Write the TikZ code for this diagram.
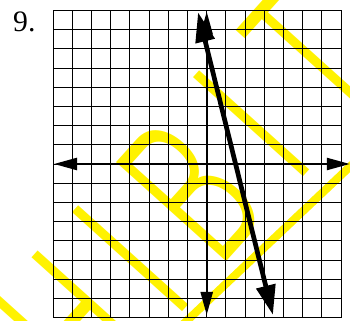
\documentclass[tikz,border=0pt]{standalone}
\usepackage{fontspec}
\setmainfont{Liberation Serif}
\newfontfamily\wmfont{Poppins Light}
\usetikzlibrary{arrows.meta}
\tikzset{
  gridline/.style={line width=0.7pt,black},
  axis/.style={<->,>={Triangle[length=17pt,width=9pt]},line width=1.4pt},
  graphline/.style={<->,>={Triangle[length=22pt,width=14pt]},line width=3.5pt},
  wmark/.style={anchor=base,inner sep=0pt,transform shape,xscale=0.62,
               text=yellow,font=\wmfont\fontsize{157}{160}\selectfont},
  wmline/.style={yellow,line width=6pt},
}
\begin{document}
\begin{tikzpicture}[x=0.5cm,y=0.5cm]
  \useasboundingbox (-10.766,-8.177) rectangle (7.464,8.542);
  % Watermark
  \begin{scope}[rotate=48]
    \foreach \ch [count=\k] in {H,I,B,I,T}
      \node[wmark] (w\k) at ({-15.7+4.7*\k},-4.2) {\ch};
  \end{scope}
  \coordinate (wa) at (-1.6,-8.7);
  \coordinate (wb) at (8,0.37);
  \draw[wmline] (wa) -- (wb);
  % Grid
  \draw[gridline,step=0.5cm] (-8,-8) grid (7,8);
  % Axes
  \coordinate (xl) at (-7.95,0);
  \coordinate (xr) at (7.45,0);
  \coordinate (yb) at (0,-7.86);
  \coordinate (yt) at (0,7.93);
  \draw[axis] (xl) -- (xr);
  \draw[axis] (yb) -- (yt);
  % Graph of the line
  \coordinate (lt) at (-0.45,7.9);
  \coordinate (lb) at (3.45,-7.86);
  \draw[graphline] (lt) -- (lb);
  % Problem number
  \node[anchor=base west,inner sep=0pt,font=\fontsize{22}{26}\selectfont]
    (num) at (-10.09,6.89) {9.};
\end{tikzpicture}
\end{document}
